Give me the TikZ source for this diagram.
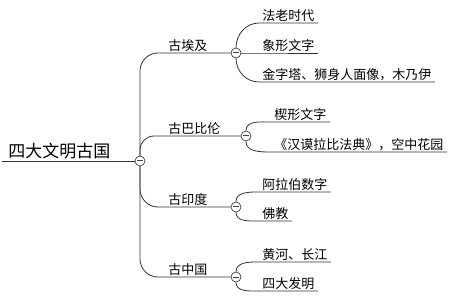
\documentclass[tikz,border=0pt]{standalone}
\usepackage{fontspec}
\setmainfont{Noto Sans CJK SC}
\usetikzlibrary{calc}

\begin{document}
\begin{tikzpicture}[x=1pt, y=-1pt, line width=0.8pt,
  every node/.style={font=\fontsize{13}{15}\selectfont, text=black},
  topic/.style={anchor=south west, inner xsep=3pt, inner ysep=1pt},
  leaf/.style={anchor=south west, inner xsep=3pt, inner ysep=1pt},
  fold/.style={circle, draw=black!75, fill=white, line width=0.7pt, minimum size=10pt, inner sep=0pt,
    path picture={\draw[line width=1pt] ($(path picture bounding box.center)+(-2.6pt,0)$) -- ($(path picture bounding box.center)+(2.6pt,0)$);}},
  link/.style={draw=black!80}]
  \useasboundingbox (0,0) rectangle (463,299);

  % central topic
  \node[anchor=south west, inner xsep=6pt, inner ysep=2pt, font=\fontsize{17}{20}\selectfont] (root) at (2,161) {四大文明古国};
  \node[fold] (rootf) at (140,161) {};

  % main branches
  \node[topic] (egypt) at (165,53) {古埃及};
  \node[fold] (egyptf) at (236,53) {};
  \node[topic] (babylon) at (165,136) {古巴比伦};
  \node[fold] (babylonf) at (246,136) {};
  \node[topic] (india) at (165,207) {古印度};
  \node[fold] (indiaf) at (236,207) {};
  \node[topic] (china) at (165,277) {古中国};
  \node[fold] (chinaf) at (236,277) {};

  % leaves
  \node[leaf] (pharaoh) at (259,23) {法老时代};
  \node[leaf] (hiero) at (259,53) {象形文字};
  \node[leaf] (pyramid) at (259,82) {金字塔、狮身人面像，木乃伊};
  \node[leaf] (cunei) at (271,122) {楔形文字};
  \node[leaf] (hammurabi) at (271,152) {《汉谟拉比法典》，空中花园};
  \node[leaf] (numerals) at (259,192) {阿拉伯数字};
  \node[leaf] (buddhism) at (259,221) {佛教};
  \node[leaf] (rivers) at (259,262) {黄河、长江};
  \node[leaf] (inventions) at (259,291) {四大发明};

  % trunk
  \draw[link] (root.south west) -- (rootf.west);
  \draw[link, rounded corners=18pt] (rootf.north) |- (egyptf.west);
  \draw[link, rounded corners=14pt] (rootf.north) |- (babylonf.west);
  \draw[link, rounded corners=18pt] (rootf.south) |- (indiaf.west);
  \draw[link, rounded corners=18pt] (rootf.south) |- (chinaf.west);

  % sub branches
  \draw[link] (egyptf.north) to[out=90, in=180] (pharaoh.south west) -- (pharaoh.south east);
  \draw[link] (egyptf.east) -- (hiero.south west) -- (hiero.south east);
  \draw[link] (egyptf.south) to[out=-90, in=180] (pyramid.south west) -- (pyramid.south east);
  \draw[link] (babylonf.north) to[out=90, in=180] (cunei.south west) -- (cunei.south east);
  \draw[link] (babylonf.south) to[out=-90, in=180] (hammurabi.south west) -- (hammurabi.south east);
  \draw[link] (indiaf.north) to[out=90, in=180] (numerals.south west) -- (numerals.south east);
  \draw[link] (indiaf.south) to[out=-90, in=180] (buddhism.south west) -- (buddhism.south east);
  \draw[link] (chinaf.north) to[out=90, in=180] (rivers.south west) -- (rivers.south east);
  \draw[link] (chinaf.south) to[out=-90, in=180] (inventions.south west) -- (inventions.south east);
\end{tikzpicture}
\end{document}
